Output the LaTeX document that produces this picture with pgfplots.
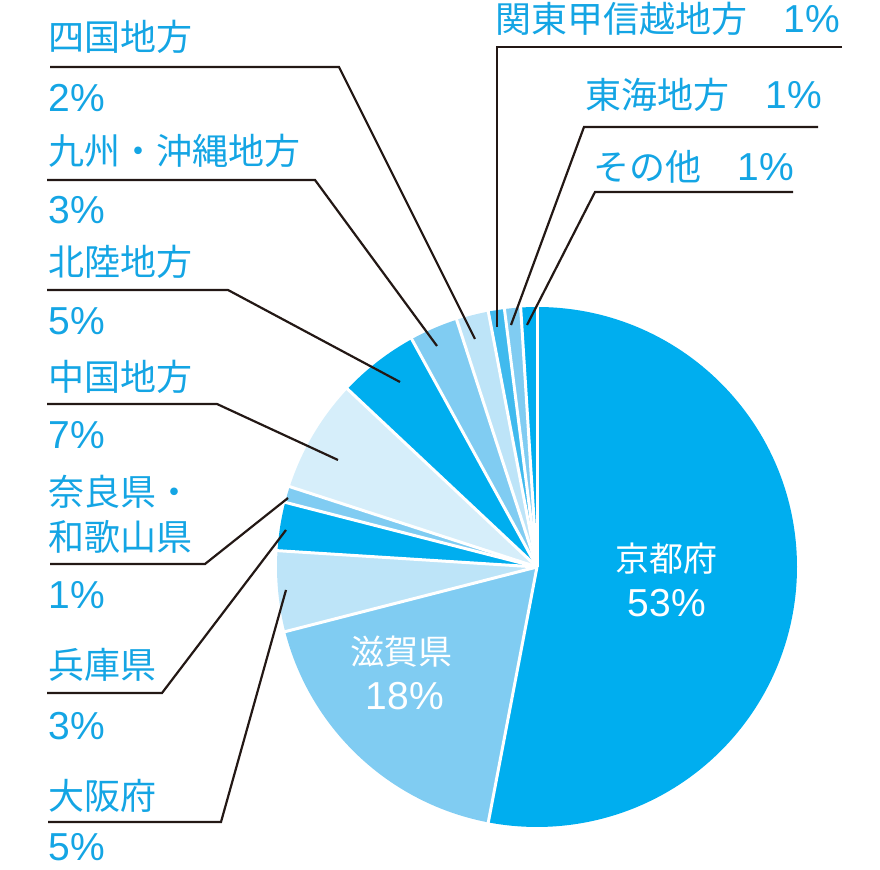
\documentclass[border=0pt]{standalone}
\usepackage{pgfplots}
\pgfplotsset{compat=1.18}
\usepackage{pgfplotstable}
\usepackage{fontspec}
\setmainfont{Noto Sans CJK JP}
\newfontfamily\numfont{Liberation Sans}
\definecolor{pie0}{HTML}{00AEEF}
\definecolor{pie1}{HTML}{80CCF2}
\definecolor{pie2}{HTML}{BDE4F8}
\definecolor{pie3}{HTML}{00AEEF}
\definecolor{pie4}{HTML}{80CCF2}
\definecolor{pie5}{HTML}{D6EEFA}
\definecolor{pie6}{HTML}{00AEEF}
\definecolor{pie7}{HTML}{80CCF2}
\definecolor{pie8}{HTML}{BDE4F8}
\definecolor{pie9}{HTML}{40BAEE}
\definecolor{pie10}{HTML}{80CCF2}
\definecolor{pie11}{HTML}{00AEEF}
\definecolor{labc}{HTML}{14A5E4}
\definecolor{linec}{HTML}{231815}
\pgfplotstableread{
value
53
18
5
3
1
7
5
3
2
1
1
1
}\piedata
\newcommand\lab{\fontsize{18pt}{18pt}\selectfont}
\newcommand\inlab{\fontsize{17pt}{17pt}\selectfont}
\newcommand\num[1]{{\numfont\fontsize{19.5pt}{19.5pt}\selectfont #1}}
\begin{document}
\begin{tikzpicture}
\gdef\cum{0}%
\foreach \i in {0,...,11}{%
  \pgfplotstablegetelem{\i}{value}\of\piedata
  \pgfmathsetmacro\va{\pgfplotsretval}%
  \pgfmathsetmacro\sa{90-3.6*\cum}%
  \pgfmathsetmacro\nc{\cum+\va}%
  \pgfmathsetmacro\sb{90-3.6*\nc}%
  \expandafter\xdef\csname psa\i\endcsname{\sa}%
  \expandafter\xdef\csname psb\i\endcsname{\sb}%
  \xdef\cum{\nc}%
}%
\begin{axis}[scale only axis, width=440pt, height=435pt,
  xmin=0, xmax=880, ymin=0, ymax=870, y dir=reverse,
  hide axis, clip=false]
\path (axis cs:0,0) rectangle (axis cs:880,870);
\pgfplotsinvokeforeach{0,...,11}{
  \fill[fill=pie#1] (axis cs:537,567) -- ++(\csname psa#1\endcsname:130pt)
    arc[start angle=\csname psa#1\endcsname, end angle=\csname psb#1\endcsname, radius=130pt] -- cycle;
}
\pgfplotsinvokeforeach{0,...,11}{
  \draw[white, line width=1.5pt] (axis cs:537,567) -- ++(\csname psa#1\endcsname:130.5pt);
}
% leader lines
\addplot[mark=none, linec, line width=1.1pt] coordinates {(50,67) (339,67) (475,339)};
\addplot[mark=none, linec, line width=1.1pt] coordinates {(47,180) (315,180) (437,346)};
\addplot[mark=none, linec, line width=1.1pt] coordinates {(47,290) (228,290) (400,382)};
\addplot[mark=none, linec, line width=1.1pt] coordinates {(47,404) (217,404) (338,460)};
\addplot[mark=none, linec, line width=1.1pt] coordinates {(50,564) (205,564) (288,498)};
\addplot[mark=none, linec, line width=1.1pt] coordinates {(47,693) (162,693) (286,530)};
\addplot[mark=none, linec, line width=1.1pt] coordinates {(48,822) (221,822) (286,590)};
\addplot[mark=none, linec, line width=1.1pt] coordinates {(842,47) (497,47) (497,327)};
\addplot[mark=none, linec, line width=1.1pt] coordinates {(818,127) (584,127) (511,325)};
\addplot[mark=none, linec, line width=1.1pt] coordinates {(793,192) (595,192) (527,325)};
% labels
\tikzset{lbl/.style={anchor=west, inner sep=0pt, text=labc, font=\lab}}
\node[lbl] at (axis cs:48,37) {四国地方};
\node[lbl] at (axis cs:48,98) {\num{2\%}};
\node[lbl] at (axis cs:48,151) {九州・沖縄地方};
\node[lbl] at (axis cs:48,210) {\num{3\%}};
\node[lbl] at (axis cs:48,262) {北陸地方};
\node[lbl] at (axis cs:48,321) {\num{5\%}};
\node[lbl] at (axis cs:48,377) {中国地方};
\node[lbl] at (axis cs:48,435) {\num{7\%}};
\node[lbl] at (axis cs:48,492) {奈良県・};
\node[lbl] at (axis cs:48,537) {和歌山県};
\node[lbl] at (axis cs:48,595) {\num{1\%}};
\node[lbl] at (axis cs:48,665) {兵庫県};
\node[lbl] at (axis cs:48,726) {\num{3\%}};
\node[lbl] at (axis cs:48,796) {大阪府};
\node[lbl] at (axis cs:48,847) {\num{5\%}};
\node[lbl] at (axis cs:495,19) {関東甲信越地方　\num{1\%}};
\node[lbl] at (axis cs:585,95) {東海地方　\num{1\%}};
\node[lbl] at (axis cs:593,167) {その他　\num{1\%}};
\node[inner sep=0pt, text=white, font=\inlab] at (axis cs:666,559) {京都府};
\node[inner sep=0pt, text=white, font=\inlab] at (axis cs:667,603) {\num{53\%}};
\node[inner sep=0pt, text=white, font=\inlab] at (axis cs:401,652) {滋賀県};
\node[inner sep=0pt, text=white, font=\inlab] at (axis cs:405,696) {\num{18\%}};
\end{axis}
\end{tikzpicture}
\end{document}
